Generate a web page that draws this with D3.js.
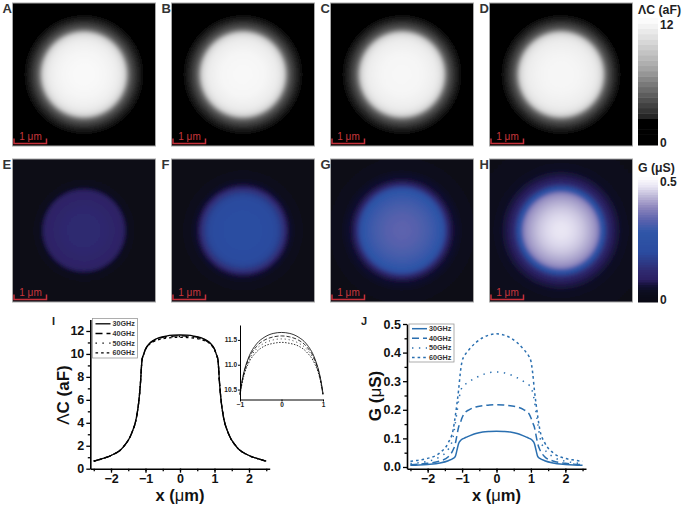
<!DOCTYPE html>
<html><head><meta charset="utf-8">
<script src="https://cdn.jsdelivr.net/npm/d3@7"></script>
<style>
html,body{margin:0;padding:0;background:#fff}
svg{display:block}
text{font-family:"Liberation Sans",Arial,sans-serif}
</style></head><body>
<svg id="c" width="685" height="505"></svg>
<script>
// Half-profile radii (µm); each curve is symmetric about x = 0
const radii = [0,0.2,0.4,0.6,0.8,0.9,0.95,1,1.05,1.1,1.15,1.2,1.26,1.4,1.64,2,2.25,2.5];
const freqs = ["30GHz","40GHz","50GHz","60GHz"];

const capacitance30 = [11.65,11.63,11.56,11.42,11.13,10.87,10.68,10.42,10.0,9.5,7.3,5.7,4.5,3.1,1.9,1.15,0.87,0.65];
const capacitance40 = [11.58,11.56,11.50,11.37,11.10,10.85,10.66,10.41,10.0,9.48,7.3,5.7,4.5,3.1,1.9,1.15,0.87,0.65];
const capacitance50 = [11.52,11.50,11.44,11.32,11.06,10.82,10.64,10.40,9.98,9.46,7.3,5.7,4.5,3.1,1.9,1.15,0.87,0.65];
const capacitance60 = [11.45,11.43,11.38,11.26,11.02,10.80,10.62,10.39,9.96,9.44,7.3,5.7,4.5,3.1,1.9,1.15,0.87,0.65];

const conductance30 = [0.125,0.124,0.122,0.117,0.108,0.103,0.100,0.097,0.092,0.082,0.058,0.036,0.030,0.022,0.014,0.009,0.007,0.006];
const conductance40 = [0.218,0.217,0.214,0.210,0.200,0.192,0.185,0.172,0.155,0.140,0.110,0.080,0.060,0.036,0.021,0.013,0.010,0.008];
const conductance50 = [0.332,0.330,0.323,0.312,0.298,0.290,0.286,0.280,0.260,0.233,0.190,0.150,0.105,0.062,0.036,0.020,0.015,0.012];
const conductance60 = [0.466,0.462,0.452,0.435,0.410,0.395,0.385,0.370,0.330,0.270,0.220,0.175,0.130,0.085,0.050,0.030,0.024,0.020];

const capacitanceSeries = [capacitance30,capacitance40,capacitance50,capacitance60];
const conductanceSeries = [conductance30,conductance40,conductance50,conductance60];

const panelLetters = ["A","B","C","D","E","F","G","H"];
const xTicks = [-2,-1,0,1,2];
const capTicks = [0,2,4,6,8,10,12];
const gTicks = [0,0.1,0.2,0.3,0.4,0.5];
const insetXTicks = [-1,0,1];
const insetYTicks = [10.5,11,11.5];

const grayLevels = [0,2.36,2.361,4.3,7.4,10.6,12];
const grayColors = ["#000","#000","#1c1c1c","#505050","#a8a8a8","#e8e8e8","#ffffff"];
const blueLevels = [0,0.03,0.05,0.07,0.09,0.125,0.2,0.28,0.33,0.38,0.42,0.465,0.5];
const blueColors = ["#0a0a14","#0b0c1b","#0d0e24","#15123a","#2c1f62","#2f2a70","#2b4b9f","#2f56a8","#5b62ad","#8d86bd","#b9b3d5","#e9e6f4","#ffffff"];

const svg = d3.select("#c");
const defs = svg.append("defs");
defs.append("filter").attr("id","soft").attr("x","-5%").attr("y","-5%").attr("width","110%").attr("height","110%")
  .append("feGaussianBlur").attr("stdDeviation",1.8);
const gray = d3.scaleLinear().domain(grayLevels).range(grayColors);
const blue = d3.scaleLinear().domain(blueLevels).range(blueColors);

const panelX = [12.5,171.5,330.5,489.5], panelY = [3,159], panelSize = 143;
const rPx = d3.scaleLinear().domain([0,2.5]).range([0,92.5]);
const barPx = 32.5;

function panel(i){
  const col = i%4, row = i<4?0:1;
  const x0 = panelX[col], y0 = panelY[row];
  const vals = row===0?capacitanceSeries[col]:conductanceSeries[col];
  const color = row===0?gray:blue;
  const cx = x0+panelSize/2, cy = y0+panelSize/2;
  const gr = defs.append("radialGradient").attr("id","g"+i)
    .attr("gradientUnits","userSpaceOnUse").attr("cx",cx).attr("cy",cy).attr("r",rPx(2.5));
  gr.selectAll("stop").data(radii).join("stop")
    .attr("offset",d=>d/2.5).attr("stop-color",(d,k)=>color(vals[k]));
  defs.append("clipPath").attr("id","p"+i).append("rect")
    .attr("x",x0).attr("y",y0).attr("width",panelSize).attr("height",panelSize);
  svg.append("g").attr("clip-path",`url(#p${i})`).append("rect")
    .attr("x",x0-8).attr("y",y0-8).attr("width",panelSize+16).attr("height",panelSize+16)
    .attr("fill",`url(#g${i})`).attr("filter","url(#soft)");
  svg.append("rect").attr("x",x0).attr("y",y0).attr("width",panelSize).attr("height",panelSize)
    .attr("fill","none").attr("stroke","#a8a8a8").attr("stroke-width",1);
  svg.append("text").attr("x",x0-10).attr("y",y0+10).attr("font-size",13).attr("font-weight","bold")
    .attr("fill","#333").text(panelLetters[i]);
  const bx = x0+1.5, by = y0+140.5;
  svg.append("path").attr("d",`M${bx},${by-5}V${by}H${bx+barPx}V${by-5}`)
    .attr("fill","none").attr("stroke","#c5303a").attr("stroke-width",1.5);
  svg.append("text").attr("x",bx+16.5).attr("y",by-4).attr("text-anchor","middle")
    .attr("font-size",10).attr("fill","#c9363c").text("1 μm");
}
d3.range(8).forEach(panel);

function colorbar(y0,y1,color,maxV,steps,title,topLabel,titleY,topY){
  const yS = d3.scaleLinear().domain([0,maxV]).range([y1,y0]);
  const g = svg.append("g");
  const bands = d3.range(steps).map(k=>k*maxV/steps);
  g.selectAll("rect").data(bands).join("rect")
    .attr("x",638).attr("width",20)
    .attr("y",d=>yS(d+maxV/steps)).attr("height",d=>yS(d)-yS(d+maxV/steps)+0.5)
    .attr("fill",d=>color(d+maxV/steps/2));
  const t = (x,y,s,fs)=>svg.append("text").attr("x",x).attr("y",y).attr("font-size",fs)
    .attr("font-weight","bold").attr("fill","#222").text(s);
  t(638,titleY,title,12.3); t(660,topY,topLabel,12); t(660,y1+2,"0",12);
}
colorbar(18,145,gray,12,24,"ΛC (aF)","12",14,29);
colorbar(177,302,blue,0.5,50,"G (μS)","0.5",172,186);

const seriesStyles = [null,"7,4","1.4,5.5","2.6,3"];

function fullCurve(vals){
  const pts = radii.map((r,k)=>[r,vals[k]]);
  return pts.slice(1).reverse().map(p=>[-p[0],p[1]]).concat(pts);
}
function strokeAxis(g,sw){
  g.selectAll("path.domain").attr("stroke","#000").attr("stroke-width",sw);
  g.selectAll("line").attr("stroke","#000").attr("stroke-width",Math.max(1,sw-0.3));
}

function chart(o){
  const x = d3.scaleLinear().domain([-2.6,2.6]).range(o.xr);
  const y = d3.scaleLinear().domain(o.yd).range(o.yr);
  const bottom = o.yr[0];
  const minorX = d3.range(-2.5,2.51,0.5);
  svg.append("g").attr("transform",`translate(0,${bottom})`)
    .call(d3.axisBottom(x).tickValues(minorX).tickSize(2.5).tickFormat("")).call(strokeAxis,1.6)
    .select("path.domain").remove();
  const ax = svg.append("g").attr("transform",`translate(0,${bottom})`)
    .call(d3.axisBottom(x).tickValues(xTicks).tickSize(4).tickSizeOuter(0).tickPadding(1).tickFormat(d3.format("d")));
  strokeAxis(ax,1.6);
  ax.selectAll("text").attr("font-size",o.fs).attr("font-weight","bold").attr("fill","#111")
    .style("font-family",'"Liberation Sans",Arial,sans-serif');
  svg.append("g").attr("transform",`translate(${o.xr[0]},0)`)
    .call(d3.axisLeft(y).tickValues(o.minorY).tickSize(2.5).tickFormat("")).call(strokeAxis,1.6)
    .select("path.domain").remove();
  const ay = svg.append("g").attr("transform",`translate(${o.xr[0]},0)`)
    .call(d3.axisLeft(y).tickValues(o.ticks).tickSize(4).tickSizeOuter(0).tickPadding(2).tickFormat(o.fmt));
  strokeAxis(ay,1.6);
  ay.selectAll("text").attr("font-size",o.fs).attr("font-weight","bold").attr("fill","#111")
    .style("font-family",'"Liberation Sans",Arial,sans-serif');
  const line = d3.line().x(d=>x(d[0])).y(d=>y(d[1])).curve(d3.curveMonotoneX);
  o.series.forEach((s,i)=>{
    svg.append("path").attr("d",line(fullCurve(s))).attr("fill","none")
      .attr("stroke",o.color).attr("stroke-width",o.sw)
      .attr("stroke-dasharray",seriesStyles[i]);
  });
  // axis titles
  const xl = svg.append("text").attr("x",x(0)).attr("y",o.xlY).attr("text-anchor","middle")
    .attr("font-size",16.5).attr("font-weight","bold").attr("fill","#111");
  xl.append("tspan").text("x (");
  xl.append("tspan").attr("font-weight","normal").text("μ");
  xl.append("tspan").text("m)");
  const yl = svg.append("text").attr("transform",`translate(${o.ylX},${o.ylY}) rotate(-90)`)
    .attr("text-anchor","middle").attr("font-size",17).attr("font-weight","bold").attr("fill","#111");
  o.ylParts.forEach(p=>yl.append("tspan").attr("font-weight",p[1]).text(p[0]));
  // legend
  const l = o.legend;
  svg.append("rect").attr("x",l.x).attr("y",l.y).attr("width",l.w).attr("height",l.h)
    .attr("fill","#fff").attr("stroke","#999").attr("stroke-width",0.8);
  freqs.forEach((f,i)=>{
    const yy = l.y0+i*l.dy;
    svg.append("line").attr("x1",l.x+3).attr("x2",l.x+18).attr("y1",yy).attr("y2",yy)
      .attr("stroke",o.color).attr("stroke-width",o.sw).attr("stroke-dasharray",seriesStyles[i]);
    svg.append("text").attr("x",l.x+20).attr("y",yy+2.5).attr("font-size",7.2)
      .attr("font-weight","bold").attr("fill","#333").text(f);
  });
}

chart({xr:[90.3,269.7],yd:[0,13],yr:[468.7,319.5],ticks:capTicks,minorY:d3.range(1,13,2),
  fmt:d3.format("d"),series:capacitanceSeries,color:"#000",sw:1.3,fs:12.5,
  xlY:500.5,ylX:69,ylY:395,ylParts:[["Λ","normal"],["C (aF)","bold"]],
  legend:{x:92.5,y:318.5,w:45,h:39.5,y0:323.8,dy:9.7}});

chart({xr:[407,586],yd:[-0.006,0.5],yr:[468.7,324],ticks:gTicks,minorY:[0.05,0.15,0.25,0.35,0.45],
  fmt:d3.format(".1f"),series:conductanceSeries,color:"#2a6fb0",sw:1.5,fs:12.5,
  xlY:500.5,ylX:381,ylY:396,ylParts:[["G (","bold"],["μ","normal"],["S)","bold"]],
  legend:{x:409,y:324,w:45,h:38,y0:328.7,dy:9.6}});

// inset
(function(){
  const x = d3.scaleLinear().domain([-1,1]).range([240,323]);
  const y = d3.scaleLinear().domain([10.3,11.8]).range([399.5,325]);
  const ax = svg.append("g").attr("transform","translate(0,399.5)")
    .call(d3.axisBottom(x).tickValues(insetXTicks).tickSize(2).tickSizeOuter(0).tickPadding(1).tickFormat(d3.format("d")));
  const ay = svg.append("g").attr("transform","translate(240,0)")
    .call(d3.axisLeft(y).tickValues(insetYTicks).tickSize(2).tickSizeOuter(0).tickPadding(1).tickFormat(d3.format(".1f")));
  [ax,ay].forEach(a=>{ strokeAxis(a,1);
    a.selectAll("text").attr("font-size",6.5).attr("font-weight","bold").attr("fill","#222")
     .style("font-family",'"Liberation Sans",Arial,sans-serif');});
  const inner = radii.filter(r=>r<=1);
  const line = d3.line().x(d=>x(d[0])).y(d=>y(d[1])).curve(d3.curveMonotoneX);
  capacitanceSeries.forEach((s,i)=>{
    const pts = inner.map((r,k)=>[r,s[k]]);
    const all = pts.slice(1).reverse().map(p=>[-p[0],p[1]]).concat(pts);
    svg.append("path").attr("d",line(all)).attr("fill","none").attr("stroke","#000")
      .attr("stroke-width",0.8).attr("stroke-dasharray",[null,"4,2","1,3","1.5,1.5"][i]);
  });
})();

svg.append("text").attr("x",52).attr("y",325).attr("font-size",11).attr("font-weight","bold").attr("fill","#222").text("I");
svg.append("text").attr("x",361).attr("y",325).attr("font-size",11).attr("font-weight","bold").attr("fill","#222").text("J");
</script>
</body></html>
